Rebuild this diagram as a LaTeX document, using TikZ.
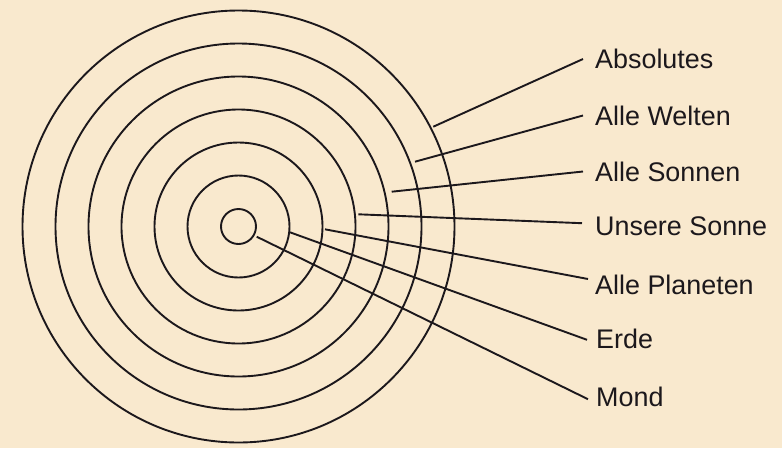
\documentclass[tikz,border=0pt]{standalone}
\usepackage{fontspec}
\setmainfont{Liberation Sans}
\definecolor{paper}{RGB}{249,233,206}
\definecolor{ink}{RGB}{28,24,28}
\begin{document}
\begin{tikzpicture}[x=1pt,y=-1pt,
  ring/.style={draw=ink,line width=1.9pt},
  lead/.style={draw=ink,line width=1.9pt},
  lbl/.style={anchor=base west,inner sep=0pt,text height=19pt,text depth=0pt,
    font=\fontsize{26.9}{30}\selectfont,text=ink}]
\fill[paper] (0,0) rectangle (782,448);
\useasboundingbox (0,0) rectangle (782,448);
\coordinate (C) at (238.5,226.5);
\foreach \r in {17.5,51,84,117,150,183,216} \draw[ring] (C) circle[radius=\r];
% start points of the leaders
\coordinate (sA) at (433.3,126.7);
\coordinate (sW) at (415,161.7);
\coordinate (sS) at (391.7,191.7);
\coordinate (sU) at (358.3,214.3);
\coordinate (sP) at (325,229.3);
\coordinate (sE) at (290,232.3);
\coordinate (sM) at (256.7,236.7);
% labels
\node[lbl] (lA) at (595,68.5) {Absolutes};
\node[lbl] (lW) at (595,125) {Alle Welten};
\node[lbl] (lS) at (595,181) {Alle Sonnen};
\node[lbl] (lU) at (595,235.7) {Unsere Sonne};
\node[lbl] (lP) at (595,294) {Alle Planeten};
\node[lbl] (lE) at (596,348.3) {Erde};
\node[lbl] (lM) at (596,406.7) {Mond};
% leaders
\draw[lead] (sA) -- ([xshift=-12pt]lA.west);
\draw[lead] (sW) -- ([xshift=-12pt]lW.west);
\draw[lead] (sS) -- ([xshift=-12pt]lS.west);
\draw[lead] (sU) -- ([xshift=-13pt,yshift=3pt]lU.west);
\draw[lead] (sP) -- ([xshift=-7pt,yshift=5.5pt]lP.west);
\draw[lead] (sE) -- ([xshift=-9pt,yshift=-1pt]lE.west);
\draw[lead] (sM) -- ([xshift=-8pt,yshift=-2pt]lM.west);
\end{tikzpicture}
\end{document}
